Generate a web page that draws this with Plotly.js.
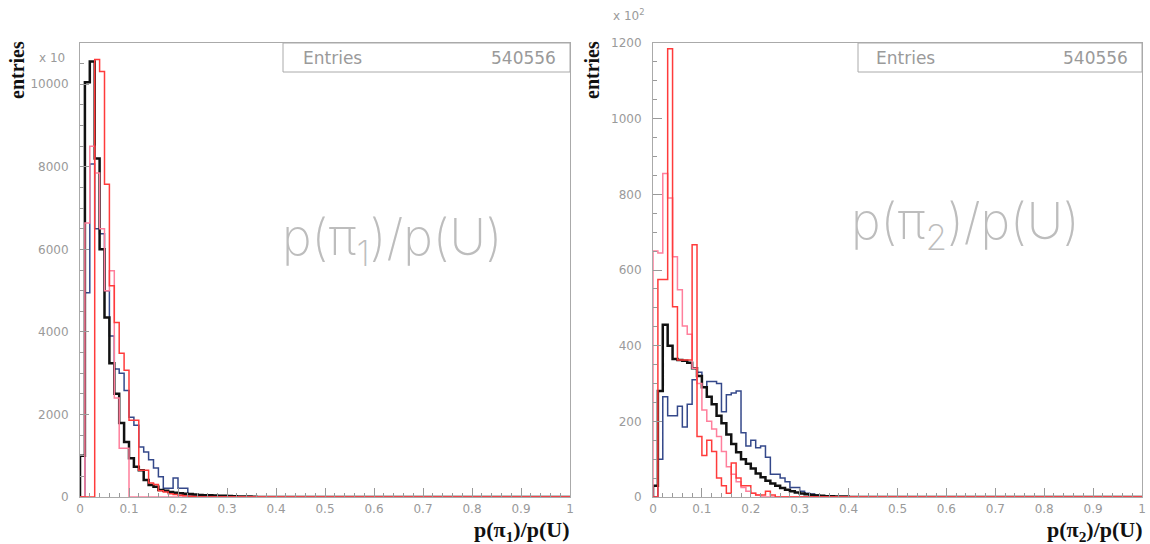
<!DOCTYPE html>
<html><head><meta charset="utf-8">
<script src="https://cdn.plot.ly/plotly-3.0.1.min.js"></script>
<style>html,body{margin:0;padding:0;background:#fff}#chart{width:1150px;height:544px}</style>
</head><body><div id="chart"></div>
<script>
const binWidth = 0.01;
const entriesLabel = "Entries";
const entriesValue = "540556";

// Left panel: p(pi1)/p(U), entries (x 10)
const blackLeft = [1000, 10050, 10550, 8200, 6000, 4350, 3240, 2500, 1790, 1330, 940, 730, 650, 410, 290, 250, 170, 150, 120, 100, 90, 80, 70, 60, 50, 45, 40, 35, 30, 28, 25, 20, 15, 12, 10, 8];
const blueLeft  = [0, 4950, 8070, 6500, 6380, 5000, 3900, 3100, 3000, 2580, 1930, 1740, 1210, 1090, 900, 700, 490, 210, 210, 460, 210, 210, 50, 50, 30, 20, 10, 5];
const pinkLeft  = [0, 6640, 8500, 7850, 6500, 5000, 5480, 2400, 1180, 1180];
const redLeft   = [0, 0, 0, 10600, 10310, 7580, 5120, 4230, 3480, 3070, 1860, 1860, 650, 650, 340, 300, 150, 120, 80, 60, 40, 30, 20, 10];

// Right panel: p(pi2)/p(U), entries (x 10^2)
const blackRight = [30, 280, 455, 400, 365, 362, 360, 355, 340, 320, 290, 265, 245, 215, 195, 165, 140, 118, 100, 88, 75, 62, 52, 43, 36, 30, 24, 19, 15, 12, 9, 7, 5, 4, 3, 2, 2, 1, 1, 1];
const blueRight  = [0, 100, 265, 215, 215, 240, 185, 245, 310, 330, 290, 305, 305, 300, 225, 270, 275, 280, 170, 135, 150, 130, 135, 105, 60, 60, 50, 40, 25, 25, 15, 10, 8, 5, 3, 2];
const pinkRight  = [650, 645, 855, 790, 635, 548, 452, 430, 340, 300, 230, 200, 180, 160, 120, 80, 60, 40, 25, 15, 10, 5];
const redRight   = [0, 575, 575, 1185, 503, 362, 362, 362, 667, 160, 110, 150, 120, 50, 30, 10, 90, 50, 30, 30, 10, 5, 5, 15, 5];

const xTickVals = [0, 0.1, 0.2, 0.3, 0.4, 0.5, 0.6, 0.7, 0.8, 0.9, 1];
const xTickText = ["0", "0.1", "0.2", "0.3", "0.4", "0.5", "0.6", "0.7", "0.8", "0.9", "1"];
const yTickValsLeft = [0, 2000, 4000, 6000, 8000, 10000];
const yTickValsRight = [0, 200, 400, 600, 800, 1000, 1200];

function stepXY(vals) {
  const xs = [0], ys = [0];
  vals.forEach((v, i) => { xs.push(i * binWidth); ys.push(v); });
  const end = vals.length * binWidth;
  xs.push(end); ys.push(vals[vals.length - 1]);
  xs.push(end); ys.push(0);
  xs.push(1); ys.push(0);
  return {xs, ys};
}

const COL = {black: '#111111', blue: '#34488a', pink: '#ff7f9c', red: '#ff3b3b'};
function trace(vals, color, width, xa, ya) {
  const s = stepXY(vals);
  return {x: s.xs, y: s.ys, type: 'scatter', mode: 'lines', line: {shape: 'hv', color: color, width: width},
          xaxis: xa, yaxis: ya, hoverinfo: 'skip', showlegend: false, cliponaxis: true};
}

const data = [
  trace(blueLeft, COL.blue, 1.5, 'x', 'y'),
  trace(blackLeft, COL.black, 2.5, 'x', 'y'),
  trace(pinkLeft, COL.pink, 1.5, 'x', 'y'),
  trace(redLeft, COL.red, 1.5, 'x', 'y'),
  trace(blueRight, COL.blue, 1.5, 'x2', 'y2'),
  trace(blackRight, COL.black, 2.5, 'x2', 'y2'),
  trace(pinkRight, COL.pink, 1.5, 'x2', 'y2'),
  trace(redRight, COL.red, 1.5, 'x2', 'y2')
];

const W = 1150, H = 544;
const px = x => x / W, py = y => 1 - y / H;
const tickFont = {family: 'DejaVu Sans, sans-serif', size: 12, color: '#9a9a9a'};
function xAxis(d) {
  return {domain: d, range: [0, 1], tickmode: 'array', tickvals: xTickVals, ticktext: xTickText,
    ticks: 'inside', ticklen: 9, tickcolor: '#999', tickwidth: 1, showline: true, linecolor: '#aaa', linewidth: 1,
    mirror: true, showgrid: false, zeroline: false, tickfont: tickFont, fixedrange: true, ticklabelstandoff: 1,
    minor: {dtick: 0.02, ticks: 'inside', ticklen: 4, tickcolor: '#999', showgrid: false}};
}
function yAxis(r, tv, mdt) {
  return {domain: [py(497), py(43)], range: r, tickmode: 'array', tickvals: tv, ticktext: tv.map(String),
    ticks: 'inside', ticklen: 9, tickcolor: '#999', tickwidth: 1, showline: true, linecolor: '#aaa', linewidth: 1,
    mirror: true, showgrid: false, zeroline: false, tickfont: tickFont, fixedrange: true, ticklabelstandoff: 8,
    minor: {dtick: mdt, ticks: 'inside', ticklen: 4, tickcolor: '#999', showgrid: false}};
}

const serifBold = {family: 'Liberation Serif, Times New Roman, serif', size: 22, color: '#111', weight: 700};
const bigFont = {family: 'Inter, DejaVu Sans, sans-serif', size: 50, color: '#bdbdbd', weight: 200};
const statFont = {family: 'DejaVu Sans, sans-serif', size: 17, color: '#9a9a9a'};
const smallFont = {family: tickFont.family, size: 12, color: '#9a9a9a'};

const annotations = [
  {text: 'entries', x: px(17), y: py(70), textangle: -90, font: {family: serifBold.family, size: 20, color: '#111', weight: 700}},
  {text: 'entries', x: px(592), y: py(70), textangle: -90, font: {family: serifBold.family, size: 20, color: '#111', weight: 700}},
  {text: '<b>p(π<sub>1</sub>)/p(U)</b>', x: px(571), y: py(531), xanchor: 'right', font: serifBold},
  {text: '<b>p(π<sub>2</sub>)/p(U)</b>', x: px(1144), y: py(531), xanchor: 'right', font: serifBold},
  {text: 'x 10', x: px(66), y: py(58), xanchor: 'right', font: smallFont},
  {text: 'x 10<sup>2</sup>', x: px(646), y: py(15), xanchor: 'right', font: smallFont},
  {text: 'p(π<sub>1</sub>)/p(U)', x: px(392), y: py(240), font: bigFont},
  {text: 'p(π<sub>2</sub>)/p(U)', x: px(965), y: py(224), font: bigFont},
  {text: entriesLabel, x: px(302), y: py(58), xanchor: 'left', font: statFont},
  {text: entriesValue, x: px(557), y: py(58), xanchor: 'right', font: statFont},
  {text: entriesLabel, x: px(875), y: py(58), xanchor: 'left', font: statFont},
  {text: entriesValue, x: px(1129), y: py(58), xanchor: 'right', font: statFont}
].map(a => Object.assign({xref: 'paper', yref: 'paper', showarrow: false, xanchor: 'center', yanchor: 'middle', borderpad: 0}, a));

const shapes = [
  {type: 'rect', xref: 'paper', yref: 'paper', x0: px(283), x1: px(570), y0: py(72), y1: py(43), line: {color: '#aaa', width: 1}},
  {type: 'rect', xref: 'paper', yref: 'paper', x0: px(858), x1: px(1142), y0: py(72), y1: py(43), line: {color: '#aaa', width: 1}}
];

const layout = {
  width: W, height: H, margin: {l: 0, r: 0, t: 0, b: 0}, paper_bgcolor: '#fff', plot_bgcolor: '#fff',
  showlegend: false,
  xaxis: xAxis([px(80), px(570)]), yaxis: yAxis([0, 11000], yTickValsLeft, 500),
  xaxis2: Object.assign(xAxis([px(653), px(1142)]), {anchor: 'y2'}),
  yaxis2: Object.assign(yAxis([0, 1200], yTickValsRight, 50), {anchor: 'x2'}),
  annotations: annotations, shapes: shapes
};
layout.xaxis.anchor = 'y';
layout.yaxis.anchor = 'x';

Plotly.newPlot('chart', data, layout, {staticPlot: true, displayModeBar: false});
</script></body></html>
